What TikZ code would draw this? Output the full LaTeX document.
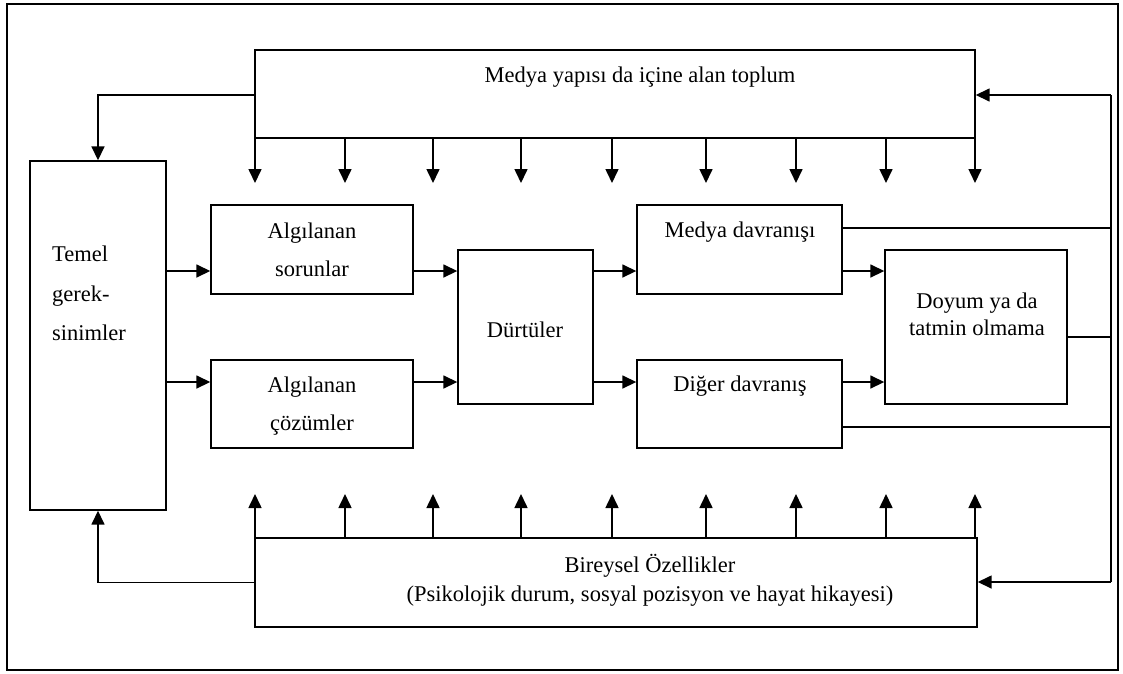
\documentclass[tikz,border=0pt]{standalone}
\usepackage{fontspec}
\setmainfont{Liberation Serif}
\usetikzlibrary{arrows.meta}
\begin{document}
\begin{tikzpicture}[x=1pt,y=-1pt,
  box/.style={draw,line width=1.4pt,inner sep=0pt},
  arr/.style={line width=1.6pt,-{Triangle[length=14pt,width=13pt]}},
  ln/.style={line width=1.6pt},
  lbl/.style={font=\fontsize{22.5}{27}\selectfont,inner sep=0pt,anchor=base}]
\useasboundingbox (0,0) rectangle (1123,673);
\draw[line width=1.2pt] (7,4) rectangle (1118,670);
% boxes
\node[box,minimum width=720pt,minimum height=88pt] (top) at (615,94) {};
\node[box,minimum width=136pt,minimum height=349pt] (temel) at (98,335.5) {};
\node[box,minimum width=202pt,minimum height=89pt] (as) at (312,249.5) {};
\node[box,minimum width=202pt,minimum height=88pt] (ac) at (312,404) {};
\node[box,minimum width=135pt,minimum height=154pt] (dur) at (525.5,327) {};
\node[box,minimum width=205pt,minimum height=89pt] (md) at (739.5,249.5) {};
\node[box,minimum width=205pt,minimum height=88pt] (dd) at (739.5,404) {};
\node[box,minimum width=182pt,minimum height=154pt] (doy) at (976,327) {};
\node[box,minimum width=722pt,minimum height=89pt] (bot) at (616,582.5) {};
% labels
\node[lbl] (ttop) at (640,82) {Medya yapısı da içine alan toplum};
\node[lbl,anchor=base west] (tt1) at (52,261) {Temel};
\node[lbl,anchor=base west] (tt2) at (52,301) {gerek-};
\node[lbl,anchor=base west] (tt3) at (52,340) {sinimler};
\node[lbl] (tas1) at (312,238) {Algılanan};
\node[lbl] (tas2) at (312,276) {sorunlar};
\node[lbl] (tac1) at (312,392) {Algılanan};
\node[lbl] (tac2) at (312,430) {çözümler};
\node[lbl] (tdur) at (525,337) {Dürtüler};
\node[lbl] (tmd) at (740,237) {Medya davranışı};
\node[lbl] (tdd) at (740,391) {Diğer davranış};
\node[lbl] (tdoy1) at (977,308) {Doyum ya da};
\node[lbl] (tdoy2) at (977,335) {tatmin olmama};
\node[lbl] (tbot1) at (650,572) {Bireysel Özellikler};
\node[lbl] (tbot2) at (650,601) {(Psikolojik durum, sosyal pozisyon ve hayat hikayesi)};
% helper coordinates
\coordinate (r1) at (0,271);
\coordinate (r2) at (0,382);
\coordinate (fa) at (1111,95);
\coordinate (fb) at (1111,582);
% top and bottom arrow rows
\foreach \x [count=\i] in {255,345,433,521,612,706,796,886,975}{
  \coordinate (dt\i) at (\x,183);
  \coordinate (ut\i) at (\x,494);
  \draw[arr] (top.south -| dt\i) -- (dt\i);
  \draw[arr] (bot.north -| ut\i) -- (ut\i);
}
% left feedback
\draw[arr] (top.west |- fa) -| (temel.north);
\draw[arr] (bot.west) -| (temel.south);
% main flow
\draw[arr] (temel.east |- r1) -- (as.west |- r1);
\draw[arr] (temel.east |- r2) -- (ac.west |- r2);
\draw[arr] (as.east |- r1) -- (dur.west |- r1);
\draw[arr] (ac.east |- r2) -- (dur.west |- r2);
\draw[arr] (dur.east |- r1) -- (md.west |- r1);
\draw[arr] (dur.east |- r2) -- (dd.west |- r2);
\draw[arr] (md.east |- r1) -- (doy.west |- r1);
\draw[arr] (dd.east |- r2) -- (doy.west |- r2);
% right feedback
\draw[ln] (fa) -- (fb);
\draw[arr] (fa) -- (top.east |- fa);
\draw[arr] (fb) -- (bot.east |- fb);
\draw[ln] (md.east |- 0,228) -- (fa |- 0,228);
\draw[ln] (doy.east |- 0,337) -- (fa |- 0,337);
\draw[ln] (dd.east |- 0,427) -- (fa |- 0,427);
\end{tikzpicture}
\end{document}
